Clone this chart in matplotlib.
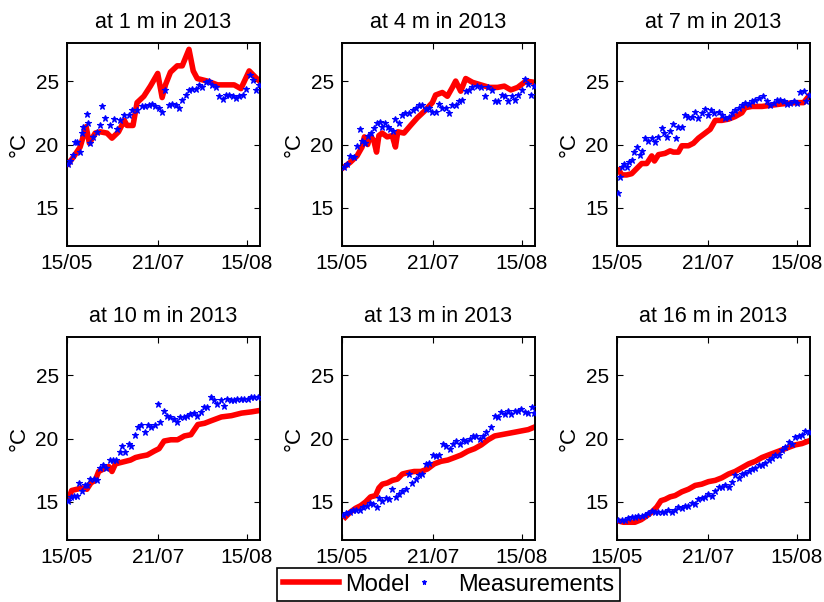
import matplotlib
matplotlib.use("Agg")
import matplotlib.pyplot as plt

plt.rcParams['font.family'] = ['Liberation Sans', 'DejaVu Sans']

# days since start of the run (15/05)
tick_labels = ["15/05", "21/07", "15/08"]
depths = [1, 4, 7, 10, 13, 16]

# ---- 1 m ----
model_day_1 = [0.7, 3.3, 6.8, 9.9, 11.6, 14.6, 17.2, 20.7, 23.3, 26.7, 29.7, 31.1, 34.2, 36.3, 39.8,
               43.2, 47.0, 49.3, 51.0, 53.6, 57.1, 59.7, 63.2, 65.4, 67.5, 72.7, 78.0, 86.6, 90.1,
               94.4, 97.0, 99.7]
model_temp_1 = [18.5, 19.0, 19.8, 21.4, 20.1, 20.9, 21.0, 20.9, 20.5, 21.0, 21.9, 21.5, 21.5, 23.3, 23.8,
                24.6, 25.6, 23.7, 24.7, 25.7, 26.2, 26.2, 27.5, 25.8, 25.2, 25.0, 24.7, 24.7, 24.4,
                25.8, 25.4, 25.0]
meas_day_1 = [0.7, 1.6, 3.3, 4.2, 5.4, 6.8, 7.6, 8.5, 10.2, 11.1, 12.0, 13.7, 15.5, 17.2, 18.1, 19.8,
              22.4, 24.1, 25.9, 27.6, 29.3, 31.9, 33.7, 36.3, 38.9, 40.6, 42.4, 44.1, 45.8, 47.6,
              49.3, 51.0, 52.8, 54.5, 56.3, 58.0, 59.7, 61.5, 63.2, 64.9, 66.7, 68.4, 70.1, 71.9,
              73.6, 75.3, 77.1, 78.8, 80.6, 82.3, 84.0, 85.8, 87.5, 89.2, 91.0, 92.7, 95.0, 96.2,
              97.9, 99.7]
meas_temp_1 = [18.5, 18.7, 19.2, 20.2, 20.2, 19.4, 20.9, 21.4, 22.4, 21.7, 20.1, 20.6, 21.0, 21.5, 23.0,
               22.1, 21.5, 22.0, 21.2, 21.9, 22.3, 22.3, 22.7, 22.7, 23.0, 23.0, 23.1, 23.2, 23.0,
               22.9, 22.6, 24.3, 23.1, 23.2, 23.1, 22.9, 23.5, 23.9, 24.3, 24.4, 24.4, 24.7, 24.5,
               24.9, 25.0, 24.7, 24.5, 23.8, 23.6, 23.9, 23.9, 23.8, 23.7, 23.8, 23.9, 24.4, 25.5,
               25.1, 24.3, 24.7]

# ---- 4 m ----
model_day_4 = [0.9, 4.3, 7.8, 10.4, 11.6, 13.3, 14.7, 16.5, 17.9, 19.1, 20.8, 23.4, 26.0, 27.7, 28.9,
               32.1, 35.5, 39.0, 42.5, 46.8, 48.5, 52.0, 54.6, 57.2, 58.9, 61.5, 64.1, 67.6, 71.9,
               76.3, 80.6, 84.1, 87.5, 91.0, 95.3, 99.7]
model_temp_4 = [18.2, 18.6, 19.1, 19.8, 20.6, 20.0, 20.7, 20.3, 19.4, 20.7, 20.9, 20.6, 20.7, 19.8, 21.0,
                20.9, 21.5, 22.1, 22.6, 23.3, 23.9, 24.1, 23.8, 24.5, 25.0, 24.2, 25.2, 24.9, 24.7,
                24.5, 24.5, 24.6, 24.3, 24.5, 25.0, 24.9]
meas_day_4 = [0.9, 2.6, 4.3, 6.1, 7.8, 9.2, 10.4, 12.1, 13.3, 15.1, 16.5, 18.2, 19.6, 20.8, 22.5, 23.7,
              25.1, 26.5, 27.7, 29.5, 31.2, 32.9, 34.7, 36.9, 38.1, 39.9, 41.6, 43.3, 45.1, 46.8,
              48.5, 50.3, 52.0, 53.7, 55.5, 57.2, 58.9, 60.7, 62.4, 64.1, 65.9, 67.6, 70.2, 71.9,
              74.0, 75.7, 77.5, 79.2, 80.9, 82.7, 84.4, 86.1, 87.9, 89.6, 91.3, 93.1, 94.8, 96.5,
              97.9, 99.7]
meas_temp_4 = [18.2, 18.5, 19.1, 19.0, 19.9, 21.2, 20.3, 20.1, 20.7, 20.9, 21.3, 21.7, 21.8, 21.4, 21.7,
               21.4, 21.2, 21.1, 22.0, 21.7, 22.3, 22.5, 22.5, 22.7, 22.9, 23.1, 23.1, 22.8, 22.9,
               22.6, 22.6, 23.2, 22.9, 22.9, 22.5, 23.1, 23.1, 23.4, 23.5, 24.2, 24.3, 24.5, 24.6,
               24.5, 23.8, 24.5, 24.3, 23.4, 23.4, 23.9, 23.8, 23.4, 23.8, 23.5, 23.9, 24.3, 25.2,
               24.8, 23.9, 24.6]

# ---- 7 m ----
model_day_7 = [1.0, 2.4, 5.0, 7.6, 10.2, 12.8, 15.4, 18.0, 19.4, 21.5, 24.9, 27.5, 29.2, 31.8, 33.6,
               37.0, 39.6, 42.2, 45.7, 48.3, 50.9, 54.3, 57.8, 61.2, 64.7, 66.4, 69.9, 75.1, 80.3,
               85.5, 92.4, 96.7, 99.3]
model_temp_7 = [18.0, 17.6, 17.6, 17.7, 18.1, 18.5, 18.5, 19.1, 18.7, 19.2, 19.3, 19.5, 19.4, 19.4, 19.9,
                19.9, 20.1, 20.5, 20.9, 21.2, 21.9, 21.9, 22.0, 22.2, 22.5, 22.9, 23.0, 23.0, 23.1,
                23.2, 23.3, 23.3, 23.8]
meas_day_7 = [0.7, 1.6, 2.4, 3.8, 5.0, 6.2, 7.6, 9.0, 10.2, 11.9, 13.1, 14.5, 16.3, 18.0, 19.7, 21.5,
              23.2, 24.6, 25.8, 27.5, 29.2, 30.4, 31.8, 33.6, 35.3, 37.0, 38.8, 40.5, 42.2, 43.9,
              45.7, 47.1, 48.8, 50.5, 52.6, 54.3, 56.1, 57.8, 59.5, 61.2, 63.0, 64.7, 66.4, 68.2,
              69.9, 71.6, 73.7, 75.9, 77.7, 79.4, 81.1, 82.9, 84.6, 86.3, 88.1, 89.8, 91.5, 93.3,
              95.0, 96.7, 97.9, 99.7]
meas_temp_7 = [16.2, 17.4, 18.2, 18.5, 18.2, 18.6, 18.8, 19.4, 19.8, 19.2, 19.5, 20.5, 20.3, 20.5, 20.2,
               20.6, 21.3, 20.9, 20.6, 21.1, 21.6, 20.5, 21.4, 21.4, 22.3, 22.2, 22.2, 22.6, 22.1,
               22.5, 22.8, 22.3, 22.7, 22.5, 22.6, 22.3, 22.1, 22.2, 22.5, 22.7, 22.9, 23.1, 23.3,
               23.2, 23.4, 23.5, 23.7, 23.8, 23.4, 23.1, 23.3, 23.5, 23.5, 23.4, 23.2, 23.3, 23.4,
               23.3, 24.1, 24.2, 23.4, 23.9]

# ---- 10 m ----
model_day_10 = [0.7, 2.4, 5.1, 7.7, 10.3, 12.4, 14.6, 16.4, 19.0, 21.6, 23.3, 25.1, 27.7, 30.3, 32.9,
                35.5, 38.2, 41.6, 45.1, 47.7, 50.3, 53.8, 57.3, 60.8, 64.2, 66.0, 67.8, 71.3, 74.7,
                80.0, 85.2, 90.4, 95.6, 99.5]
model_temp_10 = [15.2, 15.9, 16.0, 16.1, 16.0, 16.5, 16.7, 17.4, 17.6, 17.8, 17.4, 18.0, 18.1, 18.2, 18.3,
                 18.5, 18.6, 18.7, 19.0, 19.2, 19.8, 19.9, 19.9, 20.2, 20.3, 20.7, 21.1, 21.2, 21.4,
                 21.7, 21.8, 22.0, 22.1, 22.2]
meas_day_10 = [0.7, 1.9, 3.7, 5.4, 6.4, 7.7, 9.4, 10.6, 12.0, 13.8, 15.5, 16.9, 18.6, 20.4, 22.1, 23.9,
               25.6, 27.4, 28.6, 30.3, 32.1, 33.3, 35.0, 36.8, 38.5, 40.3, 42.0, 43.7, 45.5, 46.9,
               48.3, 50.0, 51.7, 53.5, 55.2, 57.0, 58.7, 60.5, 62.2, 63.9, 65.7, 67.4, 69.2, 70.9,
               72.6, 74.4, 76.1, 77.9, 79.6, 81.4, 83.1, 84.8, 86.6, 88.3, 90.1, 91.8, 93.6, 95.3,
               97.0, 99.1]
meas_temp_10 = [15.1, 15.4, 15.5, 15.5, 16.5, 15.9, 16.3, 16.3, 16.8, 16.8, 16.7, 17.7, 17.9, 17.7, 18.3,
                18.3, 18.3, 18.9, 19.4, 18.9, 19.6, 19.4, 20.3, 20.9, 21.1, 20.5, 21.1, 20.9, 21.1,
                22.7, 21.3, 22.2, 21.8, 21.7, 21.5, 21.3, 21.7, 21.7, 21.8, 21.9, 22.0, 21.8, 22.1,
                22.5, 22.5, 23.3, 23.0, 22.7, 23.0, 22.6, 23.1, 23.0, 23.0, 23.1, 23.1, 23.1, 23.1,
                23.3, 23.3, 23.3]

# ---- 13 m ----
model_day_13 = [1.7, 4.3, 7.0, 9.6, 12.2, 14.8, 17.4, 19.1, 20.9, 23.5, 26.1, 28.7, 31.3, 33.9, 37.4,
                40.9, 44.3, 47.8, 51.3, 54.8, 58.3, 61.7, 65.2, 68.7, 72.2, 75.7, 79.1, 82.6, 86.1,
                89.6, 93.0, 96.5, 99.7]
model_temp_13 = [13.8, 14.2, 14.5, 14.7, 15.0, 15.4, 15.5, 16.1, 16.4, 16.5, 16.7, 16.8, 17.2, 17.3, 17.4,
                 17.4, 17.6, 18.0, 18.2, 18.3, 18.5, 18.7, 19.0, 19.2, 19.5, 19.9, 20.2, 20.3, 20.4,
                 20.5, 20.6, 20.7, 20.9]
meas_day_13 = [0.5, 2.3, 4.0, 5.7, 7.5, 9.2, 11.0, 12.7, 14.4, 16.2, 17.9, 19.1, 20.9, 22.6, 24.3, 26.1,
               27.8, 29.6, 31.3, 33.0, 34.8, 36.5, 38.3, 40.0, 41.7, 43.5, 45.2, 47.0, 48.7, 50.4,
               52.2, 53.9, 55.7, 57.4, 59.1, 60.9, 62.6, 64.3, 66.1, 67.8, 69.6, 71.3, 73.0, 74.8,
               77.4, 79.1, 80.9, 82.6, 84.3, 86.1, 87.8, 89.6, 91.3, 93.0, 94.8, 96.5, 98.3, 99.7]
meas_temp_13 = [14.0, 14.1, 14.2, 14.4, 14.4, 14.4, 14.6, 14.7, 14.9, 14.8, 14.6, 15.3, 15.1, 15.3, 15.2,
                16.0, 15.4, 15.6, 15.9, 16.0, 17.2, 16.5, 16.8, 17.1, 17.2, 18.0, 18.1, 18.7, 18.6,
                18.7, 19.6, 19.4, 19.2, 19.6, 19.8, 19.6, 19.9, 19.8, 20.0, 20.2, 20.2, 20.0, 20.2,
                20.5, 20.9, 21.8, 21.7, 22.1, 21.9, 22.2, 21.9, 22.2, 22.2, 22.3, 22.1, 22.0, 22.5,
                22.0]

# ---- 16 m ----
model_day_16 = [0.7, 3.3, 5.9, 9.3, 12.5, 15.4, 18.0, 20.6, 22.8, 24.9, 27.5, 30.1, 33.6, 37.0, 40.5,
                43.9, 47.4, 50.9, 54.3, 57.8, 61.2, 64.7, 68.2, 71.6, 75.1, 78.5, 82.0, 85.5, 88.9,
                92.4, 95.8, 99.3]
model_temp_16 = [13.5, 13.4, 13.4, 13.4, 13.6, 13.9, 14.2, 14.6, 15.1, 15.2, 15.4, 15.5, 15.8, 16.0, 16.3,
                 16.4, 16.6, 16.7, 16.9, 17.2, 17.4, 17.7, 18.0, 18.2, 18.5, 18.7, 18.9, 19.1, 19.3,
                 19.5, 19.6, 19.8]
meas_day_16 = [0.7, 2.4, 4.2, 5.9, 7.6, 9.3, 11.1, 12.8, 14.5, 16.3, 18.0, 19.7, 21.5, 23.2, 24.9, 26.6,
               28.4, 30.1, 31.8, 33.6, 35.3, 37.0, 38.8, 40.5, 42.2, 43.9, 45.7, 47.4, 49.1, 50.9,
               52.6, 54.3, 56.1, 57.8, 59.5, 61.2, 63.0, 64.7, 66.4, 68.2, 69.9, 71.6, 73.4, 75.1,
               76.8, 78.5, 80.3, 82.0, 83.7, 85.5, 87.2, 88.9, 90.7, 92.4, 94.1, 95.8, 97.6, 99.3]
meas_temp_16 = [13.6, 13.6, 13.6, 13.7, 13.8, 13.8, 13.9, 13.9, 14.0, 14.1, 14.3, 14.2, 14.2, 14.2, 14.2,
                14.4, 14.2, 14.4, 14.6, 14.5, 14.7, 14.7, 14.9, 14.8, 15.2, 15.3, 15.4, 15.6, 15.5,
                15.9, 16.2, 16.2, 16.3, 16.2, 16.6, 17.1, 16.9, 17.2, 17.3, 17.4, 17.6, 17.7, 17.9,
                17.9, 18.1, 18.3, 18.5, 18.7, 18.7, 19.1, 19.3, 19.7, 19.6, 20.1, 20.2, 20.3, 20.6,
                20.5]

model_days = [model_day_1, model_day_4, model_day_7, model_day_10, model_day_13, model_day_16]
model_temps = [model_temp_1, model_temp_4, model_temp_7, model_temp_10, model_temp_13, model_temp_16]
meas_days = [meas_day_1, meas_day_4, meas_day_7, meas_day_10, meas_day_13, meas_day_16]
meas_temps = [meas_temp_1, meas_temp_4, meas_temp_7, meas_temp_10, meas_temp_13, meas_temp_16]

# where the three date labels sit on the day axis
tick_pos = [0, 47.4, 93.2]

fig = plt.figure(figsize=(8.24, 6.02), dpi=100)

# axes boxes in figure pixels (left, top) -> fractions
col_left = [67, 342, 617]
row_top = [43, 337]
W, H = 824, 602

for i in range(6):
    r, c = divmod(i, 3)
    ax = fig.add_axes([col_left[c] / W, 1 - (row_top[r] + 203) / H, 193 / W, 203 / H])
    l1, = ax.plot(model_days[i], model_temps[i], color="red", lw=4, solid_joinstyle="round",
                  label="Model", zorder=2)
    l2, = ax.plot(meas_days[i], meas_temps[i], ls="none", marker="*", ms=4.5, color="blue",
                  markeredgewidth=0.8, label="Measurements", zorder=3)
    ax.set_xlim(0, 100)
    ax.set_ylim(12, 28)
    ax.set_xticks(tick_pos)
    ax.set_xticklabels(tick_labels)
    ax.set_yticks([15, 20, 25])
    ax.tick_params(direction="in", top=True, right=True, labelsize=15, length=4, pad=6)
    for s in ax.spines.values():
        s.set_linewidth(1.4)
    ax.set_title(f"at {depths[i]} m in 2013", fontsize=15.5, pad=11)
    ax.set_ylabel("°C", fontsize=16, labelpad=4)

leg = fig.legend([l1, l2], ["Model", "Measurements"], loc="center", ncol=2,
                 bbox_to_anchor=(0.5445, 0.029), fontsize=17, frameon=True, fancybox=False,
                 edgecolor="black", framealpha=1, borderpad=0.25, handlelength=2.4,
                 handletextpad=0.25, columnspacing=-0.6, markerscale=0.8)
leg.get_frame().set_linewidth(1.2)

fig.savefig("out.png", dpi=100)
